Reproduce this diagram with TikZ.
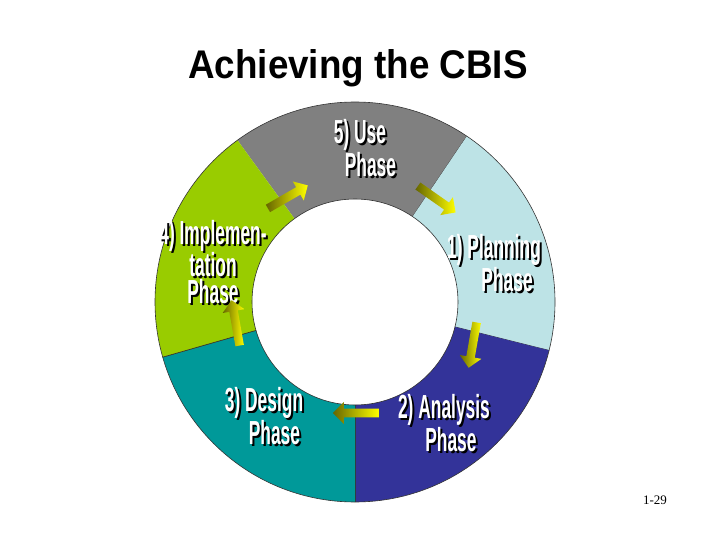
\documentclass[tikz,border=0pt]{standalone}
\usepackage{fontspec}
\setmainfont{Liberation Sans}
\newfontfamily\serifpg{Liberation Serif}
\usetikzlibrary{shapes.arrows}
\definecolor{cgray}{HTML}{808080}
\definecolor{cplan}{HTML}{BDE3E6}
\definecolor{cana}{HTML}{333399}
\definecolor{cdes}{HTML}{009999}
\definecolor{cimp}{HTML}{99CC00}
\tikzset{
 seg/.style={draw=black!80, line width=0.6pt},
 lbl/.style={font=\bfseries\fontsize{29}{24}\selectfont, align=center, xscale=0.6, yscale=1.15, inner sep=0pt},
 lblshadow/.style={lbl, text=black},
 lblfront/.style={lbl, text=white},
 flow/.style={single arrow, minimum height=46pt, minimum width=22pt, single arrow head extend=5pt, inner sep=3pt,
   left color=olive!80!black, right color=yellow, draw=none}
}
\newcommand{\seg}[3]{\fill[#3] (#1:103) arc[start angle=#1, end angle=#2, radius=103] -- (#2:200) arc[start angle=#2, end angle=#1, radius=200] -- cycle;
 \draw[seg] (#1:103) -- (#1:200);}
\begin{document}
\begin{tikzpicture}[x=1pt,y=-1pt]
\useasboundingbox (0,0) rectangle (720,540);
\fill[white] (0,0) rectangle (720,540);
\begin{scope}[shift={(355,302)}, y=1pt]
\seg{56}{126}{cgray}
\seg{-14}{56}{cplan}
\seg{-90}{-14}{cana}
\seg{-164}{-90}{cdes}
\seg{196}{126}{cimp}
\draw[seg] (0,0) circle[radius=200];
\draw[seg] (0,0) circle[radius=103];
\end{scope}
% title
\node[font=\bfseries\fontsize{40}{40}\selectfont, xscale=0.92] (t) at (358,68) {Achieving the CBIS};
% labels
\foreach \n/\x/\y/\t in {use/360/148/{5) Use\\\hspace*{1.2em}Phase},
  plan/494/263/{1) Planning\\\hspace*{1.5em}Phase},
  ana/444/423/{2) Analysis\\\hspace*{0.8em}Phase},
  des/264/416/{3) Design\\\hspace*{1.2em}Phase},
  imp/213/262/{4) Implemen-\\tation\\Phase}}{
  \node[lblshadow] (\n s) at (\x+2,\y+2) {\t};
  \node[lblfront] (\n) at (\x,\y) {\t};
}
% arrows
\node[flow, rotate=-35] (a1) at (435,198) {};
\node[flow, rotate=-100] (a2) at (473,343) {};
\node[flow, rotate=180] (a3) at (358,413) {};
\node[flow, rotate=100] (a4) at (236,325) {};
\node[flow, rotate=30] (a5) at (286,198) {};
\node[font=\serifpg\fontsize{13}{13}\selectfont] (pg) at (655,500) {1-29};
\end{tikzpicture}
\end{document}
